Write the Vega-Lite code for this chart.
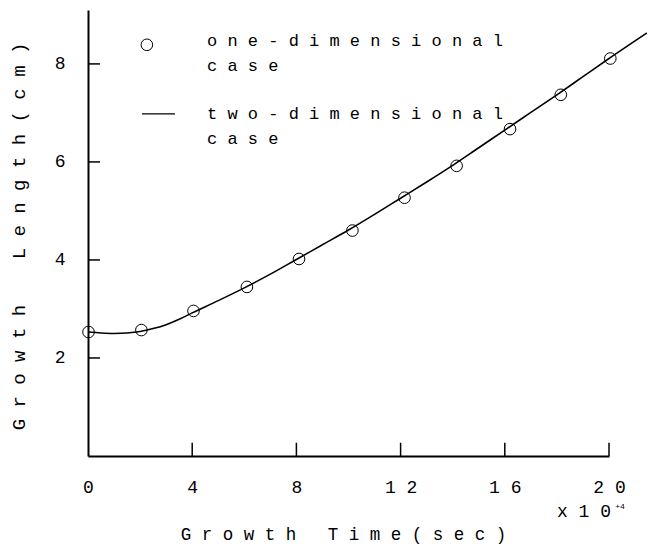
{
  "$schema": "https://vega.github.io/schema/vega-lite/v6.json",
  "width": 521,
  "height": 446,
  "autosize": {"type": "none"},
  "padding": {"left": 88, "top": 10, "right": 39, "bottom": 90},
  "background": "white",
  "config": {"view": {"stroke": null}, "font": "Liberation Mono"},
  "datasets": {
    "curve": [
      {"t": 0, "len": 2.53}, {"t": 0.5, "len": 2.51}, {"t": 1, "len": 2.5}, {"t": 1.5, "len": 2.51},
      {"t": 2, "len": 2.54}, {"t": 2.5, "len": 2.6}, {"t": 3, "len": 2.68}, {"t": 3.5, "len": 2.79},
      {"t": 4, "len": 2.92}, {"t": 5, "len": 3.17}, {"t": 6, "len": 3.43}, {"t": 7, "len": 3.71},
      {"t": 8, "len": 4.01}, {"t": 9, "len": 4.31}, {"t": 10, "len": 4.61}, {"t": 11, "len": 4.93},
      {"t": 12, "len": 5.26}, {"t": 13, "len": 5.59}, {"t": 14, "len": 5.93}, {"t": 15, "len": 6.29},
      {"t": 16, "len": 6.65}, {"t": 17, "len": 7.01}, {"t": 18, "len": 7.37}, {"t": 19, "len": 7.74},
      {"t": 20, "len": 8.11}, {"t": 21.45, "len": 8.63}
    ],
    "points": [
      {"t": 0.02, "len": 2.53}, {"t": 2.05, "len": 2.57}, {"t": 4.05, "len": 2.96}, {"t": 6.1, "len": 3.45},
      {"t": 8.1, "len": 4.02}, {"t": 10.15, "len": 4.6}, {"t": 12.15, "len": 5.27}, {"t": 14.15, "len": 5.92},
      {"t": 16.2, "len": 6.67}, {"t": 18.15, "len": 7.37}, {"t": 20.05, "len": 8.11}
    ],
    "xTicks": [
      {"t": 4, "len": 0, "len2": 0.27}, {"t": 8, "len": 0, "len2": 0.27}, {"t": 12, "len": 0, "len2": 0.27},
      {"t": 16, "len": 0, "len2": 0.27}, {"t": 20, "len": 0, "len2": 0.27}
    ],
    "yTicks": [
      {"t": 0, "t2": 0.46, "len": 2}, {"t": 0, "t2": 0.46, "len": 4},
      {"t": 0, "t2": 0.46, "len": 6}, {"t": 0, "t2": 0.46, "len": 8}
    ],
    "legendPoint": [{"t": 2.26, "len": 8.39}],
    "legendRule": [{"t": 2.07, "t2": 3.34, "len": 6.98}],
    "legendText": [
      {"t": 4.57, "len": 8.47, "label": "o n e - d i m e n s i o n a l"},
      {"t": 4.57, "len": 7.95, "label": "c a s e"},
      {"t": 4.57, "len": 6.98, "label": "t w o - d i m e n s i o n a l"},
      {"t": 4.57, "len": 6.47, "label": "c a s e"}
    ],
    "scaleNote": [{"t": 19.04, "len": -1.14, "label": "x 1 0"}],
    "scaleExp": [{"t": 20.42, "len": -1.04, "label": "+4"}]
  },
  "encoding": {
    "x": {
      "field": "t", "type": "quantitative",
      "scale": {"domain": [0, 20], "nice": false, "zero": false},
      "axis": {
        "title": "G r o w t h\u00a0\u00a0\u00a0T i m e ( s e c )",
        "values": [0, 4, 8, 12, 16, 20],
        "labelExpr": "datum.value >= 10 ? slice(datum.label, 0, 1) + ' ' + slice(datum.label, 1) : datum.label",
        "grid": false, "ticks": false,
        "domainColor": "black", "domainWidth": 2,
        "labelPadding": 31, "labelBaseline": "middle", "labelFont": "Liberation Mono", "labelFontSize": 18,
        "labelColor": "black", "labelFlush": false, "labelOverlap": false,
        "titleFont": "Liberation Mono", "titleFontSize": 17.5, "titleFontWeight": "normal", "titleColor": "black",
        "titleX": 255, "titleY": 78, "titleBaseline": "middle", "titleAlign": "center"
      }
    },
    "y": {
      "field": "len", "type": "quantitative",
      "scale": {"domain": [0, 9.1], "nice": false, "zero": false},
      "axis": {
        "title": "G r o w t h\u00a0\u00a0\u00a0\u00a0L e n g t h ( c m )",
        "values": [2, 4, 6, 8],
        "grid": false, "ticks": false,
        "domainColor": "black", "domainWidth": 2,
        "labelPadding": 23, "labelAlign": "right", "labelBaseline": "middle", "labelFont": "Liberation Mono", "labelFontSize": 18,
        "labelColor": "black",
        "titleFont": "Liberation Mono", "titleFontSize": 19, "titleFontWeight": "normal", "titleColor": "black",
        "titleX": -70, "titleY": 226, "titleAngle": 270, "titleBaseline": "middle", "titleAlign": "center"
      }
    }
  },
  "layer": [
    {
      "data": {"name": "xTicks"},
      "mark": {"type": "rule", "color": "black", "strokeWidth": 1.5},
      "encoding": {"y2": {"field": "len2"}}
    },
    {
      "data": {"name": "yTicks"},
      "mark": {"type": "rule", "color": "black", "strokeWidth": 1.5},
      "encoding": {"x2": {"field": "t2"}}
    },
    {
      "data": {"name": "curve"},
      "mark": {"type": "line", "interpolate": "monotone", "color": "black", "strokeWidth": 1.6, "clip": false}
    },
    {
      "data": {"name": "points"},
      "mark": {"type": "point", "shape": "circle", "filled": false, "stroke": "black", "strokeWidth": 1, "size": 135, "opacity": 1}
    },
    {
      "data": {"name": "legendPoint"},
      "mark": {"type": "point", "shape": "circle", "filled": false, "stroke": "black", "strokeWidth": 1, "size": 135, "opacity": 1}
    },
    {
      "data": {"name": "legendRule"},
      "mark": {"type": "rule", "color": "black", "strokeWidth": 1.2},
      "encoding": {"x2": {"field": "t2"}}
    },
    {
      "data": {"name": "legendText"},
      "mark": {"type": "text", "align": "left", "baseline": "middle", "font": "Liberation Mono", "fontSize": 17, "color": "black"},
      "encoding": {"text": {"field": "label"}}
    },
    {
      "data": {"name": "scaleNote"},
      "mark": {"type": "text", "align": "center", "baseline": "middle", "font": "Liberation Mono", "fontSize": 18, "color": "black", "clip": false},
      "encoding": {"text": {"field": "label"}}
    },
    {
      "data": {"name": "scaleExp"},
      "mark": {"type": "text", "align": "center", "baseline": "middle", "font": "Liberation Mono", "fontSize": 8, "color": "black", "clip": false},
      "encoding": {"text": {"field": "label"}}
    }
  ]
}
